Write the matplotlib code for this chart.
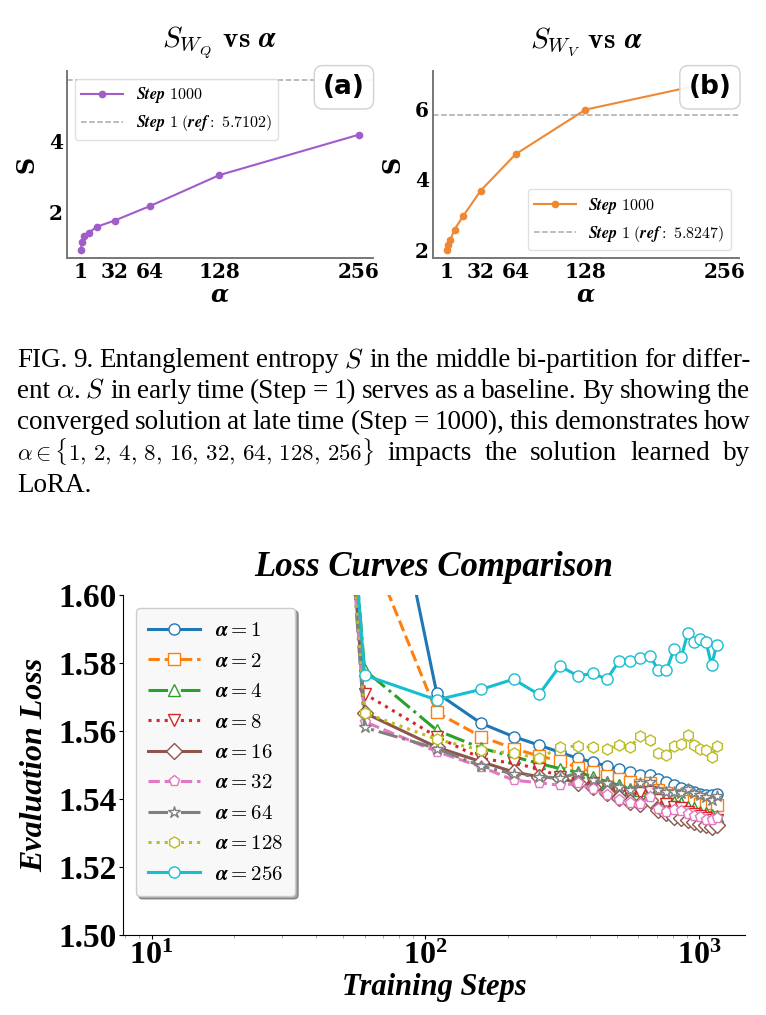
import matplotlib
matplotlib.use("Agg")
import matplotlib.pyplot as plt

plt.rcParams['mathtext.fontset'] = 'cm'
plt.rcParams['axes.unicode_minus'] = False

# ---- top panels: entropy vs alpha ----
alphas = [1, 2, 4, 8, 16, 32, 64, 128, 256]
s_wq = [0.96, 1.17, 1.33, 1.43, 1.60, 1.77, 2.17, 3.04, 4.17]
s_wq_ref = 5.7102
s_wv = [2.00, 2.12, 2.27, 2.57, 2.96, 3.68, 4.72, 5.99, 6.85]
s_wv_ref = 5.8247

# ---- bottom panel: evaluation loss curves ----
steps = [10, 60, 110, 160, 210, 260, 310, 360, 410, 460, 510, 560,
         610, 660, 710, 760, 810, 860, 910, 960, 1010, 1060, 1110, 1160]
loss_a1 = [2.10, 1.674, 1.5713, 1.5623, 1.5584, 1.5559, 1.5538, 1.5520, 1.5509, 1.5497, 1.5488, 1.5480,
           1.5471, 1.5471, 1.5460, 1.5451, 1.5441, 1.5432, 1.5427, 1.5422, 1.5415, 1.5412, 1.5411, 1.5414]
loss_a2 = [2.20, 1.6178, 1.5655, 1.5584, 1.5549, 1.5527, 1.5513, 1.5493, 1.5480, 1.5469, 1.5459, 1.5449,
           1.5443, 1.5448, 1.5427, 1.5418, 1.5412, 1.5403, 1.5395, 1.5392, 1.5385, 1.5382, 1.5388, 1.5384]
loss_a4 = [2.35, 1.578, 1.5603, 1.5550, 1.5525, 1.5505, 1.5490, 1.5479, 1.5466, 1.5451, 1.5441, 1.5429,
           1.5427, 1.5427, 1.5412, 1.5402, 1.5392, 1.5389, 1.5377, 1.5373, 1.5363, 1.5358, 1.5353, 1.5350]
loss_a8 = [2.40, 1.571, 1.5584, 1.5520, 1.5505, 1.5490, 1.5466, 1.5458, 1.5446, 1.5436, 1.5417, 1.5412,
           1.5417, 1.5421, 1.5397, 1.5387, 1.5377, 1.5373, 1.5363, 1.5356, 1.5350, 1.5343, 1.5340, 1.5338]
loss_a16 = [2.42, 1.5654, 1.5553, 1.5510, 1.5480, 1.5466, 1.5461, 1.5448, 1.5436, 1.5417, 1.5402, 1.5392,
            1.5387, 1.5397, 1.5368, 1.5358, 1.5348, 1.5343, 1.5338, 1.5333, 1.5328, 1.5323, 1.5318, 1.5323]
loss_a32 = [2.45, 1.5628, 1.5540, 1.5495, 1.5456, 1.5448, 1.5441, 1.5446, 1.5429, 1.5412, 1.5397, 1.5389,
            1.5387, 1.5405, 1.5370, 1.5363, 1.5368, 1.5366, 1.5356, 1.5350, 1.5346, 1.5338, 1.5338, 1.5343]
loss_a64 = [2.45, 1.5611, 1.5549, 1.5497, 1.5474, 1.5466, 1.5462, 1.5476, 1.5456, 1.5446, 1.5436, 1.5427,
            1.5446, 1.5451, 1.5427, 1.5421, 1.5422, 1.5417, 1.5429, 1.5417, 1.5412, 1.5405, 1.5397, 1.5409]
loss_a128 = [2.40, 1.5654, 1.5576, 1.5544, 1.5535, 1.5520, 1.5552, 1.5557, 1.5552, 1.5549, 1.5559, 1.5554,
             1.5586, 1.5574, 1.5535, 1.5530, 1.5556, 1.5562, 1.5589, 1.5559, 1.5549, 1.5546, 1.5524, 1.5556]
loss_a256 = [2.40, 1.5765, 1.5692, 1.5723, 1.5753, 1.5708, 1.5792, 1.5763, 1.5770, 1.5753, 1.5806, 1.5807,
             1.5814, 1.5822, 1.5780, 1.5779, 1.5842, 1.5817, 1.5890, 1.5863, 1.5870, 1.5863, 1.5795, 1.5854]
loss_curves = [loss_a1, loss_a2, loss_a4, loss_a8, loss_a16, loss_a32, loss_a64, loss_a128, loss_a256]

line_styles = ['-', '--', '-.', ':', '-', '--', '-.', ':', '-']
markers = ['o', 's', '^', 'v', 'D', 'p', '*', 'h', 'o']
colors = ['#1f77b4', '#ff7f0e', '#2ca02c', '#d62728', '#8c564b',
          '#e377c2', '#7f7f7f', '#bcbd22', '#17becf']

alpha_set = "$\\alpha\\in\\{1,\\,2,\\,4,\\,8,\\,16,\\,32,\\,64,\\,128,\\,256\\}$"
caption_lines = [
    ["FIG.", "9.", "Entanglement", "entropy", "$S$", "in", "the", "middle", "bi-partition", "for", "differ-"],
    ["ent", "$\\alpha$.", "$S$", "in", "early", "time", "(Step", "=", "1)", "serves", "as", "a", "baseline.",
     "By", "showing", "the"],
    ["converged", "solution", "at", "late", "time", "(Step", "=", "1000),", "this", "demonstrates", "how"],
    [alpha_set, "impacts", "the", "solution", "learned", "by"],
    ["LoRA."],
]

W, H = 766, 1015
fig = plt.figure(figsize=(W / 100, H / 100), dpi=100)


def px(x0, y0, x1, y1):
    # pixel box (top-left origin) -> figure fraction rect
    return [x0 / W, 1 - y1 / H, (x1 - x0) / W, (y1 - y0) / H]


def entropy_panel(ax, vals, ref, color, sub, tag, leg_loc):
    ax.plot(alphas, vals, '-o', color=color, lw=1.5, ms=4.5, label=r'$\boldsymbol{Step}\ 1000$')
    ax.axhline(ref, color='#aaaaaa', ls='--', lw=1.1,
               label=r'$\boldsymbol{Step}\ 1\ (\boldsymbol{ref}:\ %.4f)$' % ref)
    ax.set_title(r'$S_{W_%s}$ $\mathbf{vs}$ $\boldsymbol{\alpha}$' % sub, fontsize=21, pad=17)
    ax.set_xticks([1, 32, 64, 128, 256], labels=['1', '32', '64', '128', '256'],
                  fontfamily='DejaVu Serif', fontweight='bold', fontsize=14.5)
    yt = [2, 4] if sub == 'Q' else [2, 4, 6]
    ax.set_yticks(yt, labels=[str(v) for v in yt],
                  fontfamily='DejaVu Serif', fontweight='bold', fontsize=14.5)
    ax.tick_params(length=0, pad=3)
    ax.set_xlabel('α', fontfamily='DejaVu Serif', fontweight='bold', fontstyle='italic', fontsize=17, labelpad=0)
    ax.set_ylabel('S', fontfamily='DejaVu Serif', fontweight='bold', fontsize=17, labelpad=7)
    for s in ['top', 'right']:
        ax.spines[s].set_visible(False)
    for s in ['left', 'bottom']:
        ax.spines[s].set_color('#777777')
        ax.spines[s].set_linewidth(1.4)
    ax.legend(loc=leg_loc, fontsize=11.5, handlelength=2.6, edgecolor='#dddddd', framealpha=0.9)
    ax.text(0.905, 0.913, tag, transform=ax.transAxes, ha='center', va='center',
            fontsize=19, fontweight='bold', fontfamily='DejaVu Sans',
            bbox=dict(boxstyle='round,pad=0.33', fc='white', ec='#cccccc', alpha=0.9))


ax_a = fig.add_axes(px(67, 71, 373, 258))
ax_b = fig.add_axes(px(433, 71, 739, 258))
entropy_panel(ax_a, s_wq, s_wq_ref, '#a05cc8', 'Q', '(a)', 'upper left')
entropy_panel(ax_b, s_wv, s_wv_ref, '#ee8833', 'V', '(b)', 'lower right')

# ---- caption, justified line by line ----
renderer = fig.canvas.get_renderer()
cap_x0, cap_x1 = 17, 750
baselines = [367, 398, 429, 460, 492]
for words, yb in zip(caption_lines, baselines):
    texts = [fig.text(0, 1 - yb / H, w, fontsize=16.5 if w == alpha_set else 19.5,
                      fontfamily='Liberation Serif', va='baseline')
             for w in words]
    widths = [t.get_window_extent(renderer).width for t in texts]
    if len(words) > 1:
        gap = max((cap_x1 - cap_x0 - sum(widths)) / (len(words) - 1), 4)
    else:
        gap = 0
    x = cap_x0
    for t, w in zip(texts, widths):
        t.set_x(x / W)
        x += w + gap

# ---- loss curves ----
ax = fig.add_axes(px(123.3, 595.3, 745, 935))
for a, ys, ls, mk, c in zip(alphas, loss_curves, line_styles, markers, colors):
    ax.plot(steps, ys, ls=ls, marker=mk, color=c, lw=2.2, ms=8 if mk != '*' else 9,
            mfc='white', mec=c, mew=1.0, label=r'$\boldsymbol{\alpha}=%d$' % a)
ax.set_xscale('log')
ax.set_ylim(1.50, 1.60)
ax.set_yticks([1.50, 1.52, 1.54, 1.56, 1.58, 1.60],
              labels=['1.50', '1.52', '1.54', '1.56', '1.58', '1.60'],
              fontfamily='Liberation Serif', fontweight='bold', fontsize=24)
ax.set_xticks([10, 100, 1000],
              labels=[r'$\mathdefault{10^{1}}$', r'$\mathdefault{10^{2}}$', r'$\mathdefault{10^{3}}$'],
              fontfamily='Liberation Serif', fontweight='bold', fontsize=23)
ax.xaxis.set_minor_formatter(matplotlib.ticker.NullFormatter())
ax.tick_params(which='major', length=3, width=0.8, pad=2)
ax.tick_params(which='minor', length=2, width=0.6, color='#999999')
for s in ['top', 'right']:
    ax.spines[s].set_visible(False)
ax.set_title('Loss Curves Comparison', fontfamily='Liberation Serif', fontweight='bold',
             fontstyle='italic', fontsize=25, pad=14)
ax.set_xlabel('Training Steps', fontfamily='Liberation Serif', fontweight='bold',
              fontstyle='italic', fontsize=22, labelpad=1)
ax.set_ylabel('Evaluation Loss', fontfamily='Liberation Serif', fontweight='bold',
              fontstyle='italic', fontsize=23, labelpad=6)
ax.legend(loc='upper left', fontsize=15, handlelength=2.5, handletextpad=0.7, labelspacing=0.5,
          shadow=True, fancybox=True, framealpha=1, facecolor='#f8f8f8', edgecolor='#cccccc',
          borderpad=0.6, borderaxespad=0.6)

fig.savefig('out.png', dpi=100)
